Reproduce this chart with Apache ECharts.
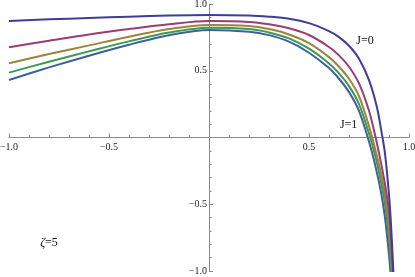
<!DOCTYPE html>
<html><head><meta charset="utf-8">
<script src="https://cdn.jsdelivr.net/npm/echarts@6/dist/echarts.min.js"></script>
<style>html,body{margin:0;padding:0;background:#fff}#c{width:415px;height:277px}</style>
</head><body><div id="c"></div>
<script>
const seriesNames = ['J=0', 'J=0.25', 'J=0.5', 'J=0.75', 'J=1'];
const J0 = [[-1,0.873],[-0.8,0.885],[-0.6,0.895],[-0.4,0.905],[-0.2,0.914],[0,0.918],[0.2,0.914],[0.3,0.905],[0.4,0.89],[0.5,0.857],[0.6,0.797],[0.65,0.752],[0.7,0.687],[0.75,0.59],[0.8,0.43],[0.84,0.225],[0.865,0.02],[0.88,-0.12],[0.9,-0.43],[0.91,-0.65],[0.92,-0.95],[0.93,-1.35]];
const J25 = [[-1,0.676],[-0.8,0.725],[-0.6,0.772],[-0.4,0.812],[-0.2,0.848],[0,0.872],[0.2,0.866],[0.3,0.848],[0.4,0.818],[0.5,0.768],[0.6,0.678],[0.65,0.615],[0.7,0.53],[0.75,0.405],[0.8,0.2],[0.83,0.02],[0.86,-0.19],[0.88,-0.35],[0.9,-0.56],[0.91,-0.75],[0.92,-1.02],[0.93,-1.35]];
const J50 = [[-1,0.556],[-0.8,0.625],[-0.6,0.69],[-0.4,0.755],[-0.2,0.812],[0,0.843],[0.2,0.835],[0.3,0.812],[0.4,0.772],[0.5,0.707],[0.6,0.602],[0.65,0.53],[0.7,0.44],[0.75,0.31],[0.8,0.085],[0.83,-0.08],[0.86,-0.27],[0.88,-0.43],[0.9,-0.67],[0.91,-0.85],[0.92,-1.08],[0.93,-1.4]];
const J75 = [[-1,0.486],[-0.8,0.568],[-0.6,0.645],[-0.4,0.72],[-0.2,0.786],[0,0.822],[0.2,0.812],[0.3,0.787],[0.4,0.742],[0.5,0.665],[0.6,0.555],[0.65,0.48],[0.7,0.385],[0.75,0.25],[0.8,0.03],[0.83,-0.13],[0.86,-0.33],[0.88,-0.5],[0.9,-0.76],[0.91,-0.95],[0.92,-1.2]];
const J100 = [[-1,0.431],[-0.8,0.525],[-0.6,0.613],[-0.4,0.695],[-0.2,0.766],[0,0.805],[0.2,0.793],[0.3,0.767],[0.4,0.718],[0.5,0.635],[0.6,0.52],[0.65,0.44],[0.7,0.34],[0.75,0.2],[0.8,-0.03],[0.83,-0.2],[0.86,-0.41],[0.88,-0.6],[0.9,-0.88],[0.91,-1.06],[0.92,-1.3]];
const allData = [J0, J25, J50, J75, J100];
const colors = ['#3F3D99', '#993D74', '#99853D', '#3D9951', '#3D6299'];
const annotations = [
  {text: 'J=0', at: [0.78, 0.725]},
  {text: 'J=1', at: [0.698, 0.095]},
  {text: '{i|ζ}=5', at: [-0.8, -0.79]}
];

const chart = echarts.init(document.getElementById('c'), null, {renderer: 'canvas'});
const fmt = v => {
  if (Math.abs(v) < 1e-9) return '';
  const s = Math.abs(v).toFixed(1);
  return v < 0 ? '\u2212' + s : s;
};
const axisCommon = {
  type: 'value', min: -1, max: 1, interval: 0.5,
  axisLine: {show: true, onZero: false, lineStyle: {color: '#8a8a8a', width: 1}},
  axisTick: {show: true, inside: true, length: 4, lineStyle: {color: '#8a8a8a'}},
  minorTick: {show: true, splitNumber: 5, length: 2.5, lineStyle: {color: '#8a8a8a'}},
  splitLine: {show: false},
  axisLabel: {formatter: fmt, fontFamily: 'Liberation Serif', fontSize: 10, color: '#222', showMinLabel: true, showMaxLabel: true, hideOverlap: false}
};
const grid = {left: 9, right: 6, top: 4, bottom: 6, containLabel: false, outerBoundsMode: 'none'};
chart.setOption({
  animation: false,
  backgroundColor: '#fff',
  grid: grid,
  xAxis: Object.assign({}, axisCommon, {position: 'bottom', axisLabel: Object.assign({}, axisCommon.axisLabel, {margin: 5})}),
  yAxis: Object.assign({}, axisCommon, {position: 'left', axisLabel: Object.assign({}, axisCommon.axisLabel, {margin: 2})}),
  series: allData.map((d, i) => ({
    name: seriesNames[i], type: 'line', data: d, showSymbol: false,
    smooth: 0.3, clip: true,
    lineStyle: {color: colors[i], width: 2}, z: 10 - i
  }))
});
// move the axes so they cross at the origin
const origin = chart.convertToPixel({gridIndex: 0}, [0, 0]);
const H = chart.getHeight();
const gridBottomPx = H - grid.bottom;
const gridLeftPx = grid.left;
const graphics = annotations.map(a => {
  const p = chart.convertToPixel({gridIndex: 0}, a.at);
  return {
    type: 'text', x: p[0], y: p[1],
    style: {text: a.text, fontFamily: 'Liberation Serif', fontSize: 12, fill: '#111',
      align: 'center', verticalAlign: 'middle',
      rich: {i: {fontFamily: 'Liberation Serif', fontStyle: 'italic', fontSize: 12, fill: '#111'}}}
  };
});
chart.setOption({
  xAxis: {offset: -(gridBottomPx - origin[1])},
  yAxis: {offset: -(origin[0] - gridLeftPx)},
  graphic: graphics
});
</script></body></html>
